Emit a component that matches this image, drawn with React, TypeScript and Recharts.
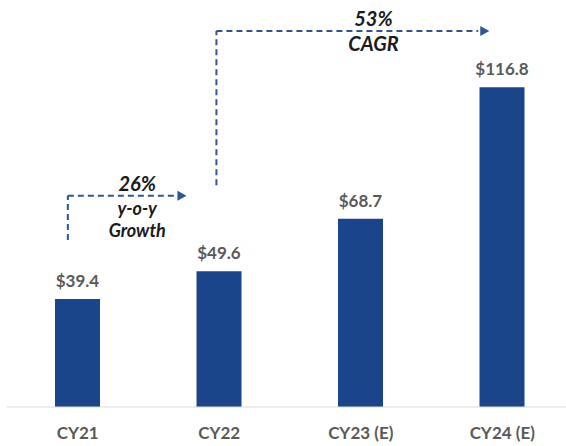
import React from "react";
import {
    BarChart,
    Bar,
    XAxis,
    YAxis,
    LabelList,
    ReferenceLine,
    ReferenceDot,
} from "recharts";

// chart values
const years = ["CY21", "CY22", "CY23 (E)", "CY24 (E)"];
const revenue = [39.4, 49.6, 68.7, 116.8];

// annotation anchors, in data units (x = category index, y = value)
const growthPath = [
    { x: -0.07, y: 61 },
    { x: -0.07, y: 77.1 },
    { x: 0.69, y: 77.1 },
];
const growthTip = { x: 0.74, y: 77.1 };
const growthText = [
    { x: 0.42, y: 81.8, text: "26%", size: 20 },
    { x: 0.42, y: 72.7, text: "y-o-y", size: 18 },
    { x: 0.42, y: 64.6, text: "Growth", size: 18 },
];
const cagrPath = [
    { x: 0.98, y: 81 },
    { x: 0.98, y: 137.3 },
    { x: 2.83, y: 137.3 },
];
const cagrTip = { x: 2.88, y: 137.3 };
const cagrText = [
    { x: 2.09, y: 142, text: "53%", size: 20 },
    { x: 2.09, y: 133, text: "CAGR", size: 20 },
];

const data = years.map((year, i) => ({ idx: i, year, value: revenue[i] }));

const BAR = "#1B458A";
const ARROW = "#2F5597";
const FONT = "Lato, 'Open Sans', sans-serif";

const Arrowhead = (props: any) => {
    const { cx, cy } = props;
    return <path d={`M${cx + 4},${cy} L${cx - 5},${cy - 5} L${cx - 5},${cy + 5} Z`} fill={ARROW} />;
};

const makeText = (text: string, size: number) => (props: any) => (
    <text
        x={props.cx}
        y={props.cy}
        textAnchor="middle"
        dominantBaseline="central"
        fontFamily={FONT}
        fontWeight={700}
        fontStyle="italic"
        fontSize={size}
        fill="#1a1a1a"
    >
        {text}
    </text>
);

const dashedPath = (pts: { x: number; y: number }[], key: string) =>
    pts.slice(1).map((p, i) => (
        <ReferenceLine
            key={`${key}-${i}`}
            segment={[pts[i], p]}
            stroke={ARROW}
            strokeWidth={2}
            strokeDasharray="6 4"
            ifOverflow="visible"
        />
    ));

const App: React.FC = () => {
    return (
        <div style={{ position: "absolute", left: 0, top: 0, width: 566, height: 446, overflow: "hidden", background: "#fff" }}>
            <BarChart
                width={580}
                height={446}
                data={data}
                margin={{ top: 51, right: 7, bottom: 0, left: 7 }}
            >
                <XAxis
                    dataKey="idx"
                    type="number"
                    domain={[-0.5, 3.5]}
                    allowDataOverflow
                    ticks={[0, 1, 2, 3]}
                    tickFormatter={(i: number) => years[i] ?? ""}
                    height={39}
                    tickLine={false}
                    tickMargin={14}
                    axisLine={{ stroke: "#D9D9D9" }}
                    tick={{ fill: "#595959", fontSize: 17, fontWeight: 700, fontFamily: FONT }}
                />
                <YAxis domain={[0, 130]} allowDataOverflow hide />
                <Bar dataKey="value" fill={BAR} barSize={45} isAnimationActive={false}>
                    <LabelList
                        dataKey="value"
                        position="top"
                        offset={12}
                        formatter={(v: any) => `$${Number(v).toFixed(1)}`}
                        style={{ fill: "#595959", fontSize: 17, fontWeight: 700, fontFamily: FONT }}
                    />
                </Bar>
                {dashedPath(growthPath, "g")}
                {dashedPath(cagrPath, "c")}
                <ReferenceDot x={growthTip.x} y={growthTip.y} ifOverflow="visible" shape={Arrowhead} />
                <ReferenceDot x={cagrTip.x} y={cagrTip.y} ifOverflow="visible" shape={Arrowhead} />
                {[...growthText, ...cagrText].map((t) => (
                    <ReferenceDot
                        key={t.text}
                        x={t.x}
                        y={t.y}
                        ifOverflow="visible"
                        shape={makeText(t.text, t.size)}
                    />
                ))}
            </BarChart>
        </div>
    );
};

export default App;
